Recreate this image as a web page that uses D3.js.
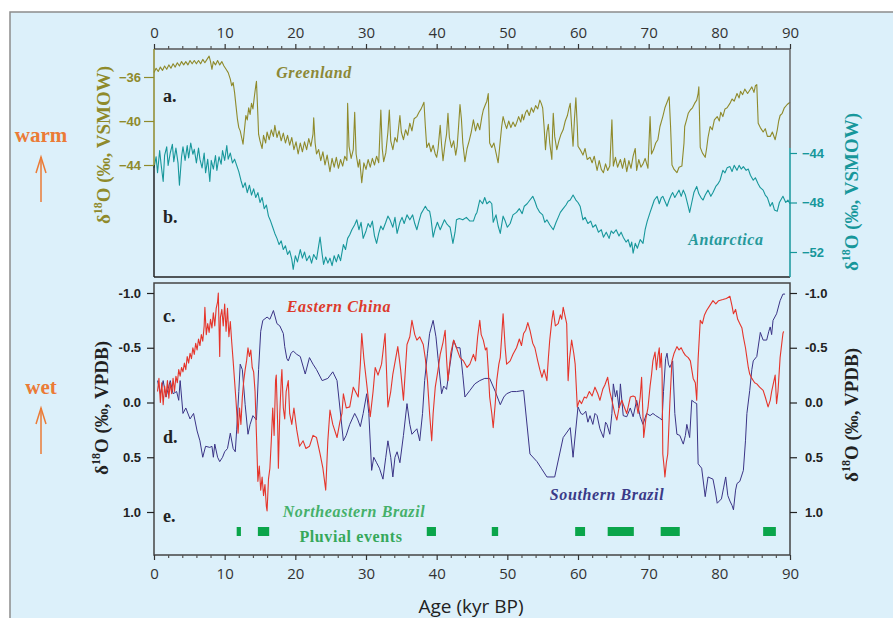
<!DOCTYPE html>
<html>

<head>
  <meta charset="utf-8">
  <title>isotope-records</title>
  <style>
    * {
      padding: 0;
      margin: 0;
    }

    body {
      background: #fff;
    }

    .serif {
      font-family: "Liberation Serif", "DejaVu Serif", serif;
      font-weight: bold;
    }

    .tick text {
      font-family: "Open Sans", "Liberation Sans", sans-serif;
    }
  </style>
</head>

<body>
  <svg id="svg"></svg>
  <script src="https://cdnjs.cloudflare.com/ajax/libs/d3/7.8.5/d3.min.js"></script>

  <script>
    // [age kyr BP, d18O]
    const greenland = [
      [0.0, -35.6], [0.3, -35.2], [0.6, -35.5], [0.9, -35.1], [1.2, -35.4], [1.5, -35.0], [1.8, -35.3], [2.1, -34.9],
      [2.4, -35.2], [2.7, -34.8], [3.0, -35.1], [3.3, -34.7], [3.6, -35.0], [3.9, -34.6], [4.2, -34.9], [4.5, -34.6],
      [4.8, -34.9], [5.1, -34.5], [5.4, -34.8], [5.7, -34.5], [6.0, -34.8], [6.3, -34.5], [6.6, -34.8], [6.9, -34.4],
      [7.2, -34.7], [7.5, -34.4], [7.8, -34.1], [8.0, -34.6], [8.2, -35.3], [8.4, -34.6], [8.7, -34.9], [9.0, -34.5],
      [9.3, -34.9], [9.6, -34.6], [9.9, -35.0], [10.2, -35.3], [10.5, -35.6], [10.8, -36.2], [11.0, -36.8], [11.2, -36.5],
      [11.4, -37.4], [11.6, -38.6], [11.8, -39.8], [12.0, -40.6], [12.2, -40.9], [12.4, -41.5], [12.6, -42.1], [12.8, -40.8],
      [13.0, -39.5], [13.2, -39.9], [13.4, -38.8], [13.6, -39.4], [13.8, -38.4], [14.0, -38.9], [14.2, -37.8], [14.4, -36.8],
      [14.5, -36.4], [14.7, -39.5], [14.8, -41.2], [15.0, -41.8], [15.3, -42.5], [15.5, -41.3], [15.8, -42.0], [16.0, -41.0],
      [16.3, -41.7], [16.6, -40.8], [16.9, -41.4], [17.1, -40.4], [17.4, -41.5], [17.7, -40.9], [18.0, -41.8], [18.3, -41.1],
      [18.6, -42.0], [18.9, -41.3], [19.2, -42.2], [19.5, -41.5], [19.8, -42.6], [20.1, -41.9], [20.4, -43.0], [20.7, -42.0],
      [21.0, -42.8], [21.3, -41.9], [21.6, -42.6], [21.9, -41.6], [22.2, -42.3], [22.5, -41.2], [22.6, -39.7], [22.8, -42.0],
      [23.0, -43.0], [23.3, -42.6], [23.6, -43.6], [23.9, -42.8], [24.2, -44.0], [24.5, -43.1], [24.9, -44.6], [25.2, -43.4],
      [25.5, -44.2], [25.8, -43.3], [26.1, -44.3], [26.4, -43.5], [26.7, -44.1], [27.0, -43.2], [27.3, -43.6], [27.4, -38.4],
      [27.6, -42.3], [27.9, -43.4], [28.2, -42.6], [28.4, -39.2], [28.6, -43.0], [28.9, -44.2], [29.1, -43.5], [29.4, -45.6],
      [29.7, -43.8], [30.0, -44.4], [30.3, -43.5], [30.6, -44.2], [30.9, -43.4], [31.2, -44.0], [31.5, -43.2], [31.8, -43.8],
      [32.1, -39.0], [32.3, -42.5], [32.5, -43.7], [32.8, -42.9], [33.1, -41.0], [33.3, -39.0], [33.5, -41.8], [33.8, -42.6],
      [34.1, -41.5], [34.4, -41.9], [34.8, -39.5], [35.0, -41.0], [35.3, -41.7], [35.6, -40.8], [35.9, -41.3], [36.2, -40.2],
      [36.5, -40.9], [36.8, -39.8], [37.2, -39.6], [37.5, -39.2], [37.8, -38.9], [38.0, -38.6], [38.2, -38.3], [38.4, -40.5],
      [38.6, -42.4], [38.9, -42.0], [39.2, -42.8], [39.5, -42.2], [39.8, -43.0], [40.0, -43.3], [40.2, -42.5], [40.5, -40.4],
      [40.7, -42.2], [40.9, -43.6], [41.2, -42.0], [41.4, -41.2], [41.6, -39.3], [41.8, -41.5], [42.1, -42.4], [42.4, -41.8],
      [42.7, -43.1], [42.9, -42.3], [43.1, -40.5], [43.3, -38.5], [43.5, -39.8], [43.7, -42.0], [44.0, -43.7], [44.3, -42.5],
      [44.6, -41.8], [44.9, -41.0], [45.2, -39.9], [45.5, -40.9], [45.8, -40.2], [46.1, -40.8], [46.4, -39.6], [46.6, -39.0],
      [46.9, -38.5], [47.1, -38.2], [47.3, -37.5], [47.5, -42.0], [47.8, -42.4], [48.1, -42.0], [48.4, -42.9], [48.7, -43.8],
      [49.0, -41.8], [49.2, -40.5], [49.4, -39.6], [49.7, -40.3], [49.9, -40.7], [50.2, -40.0], [50.5, -40.6], [50.8, -40.1],
      [51.1, -40.5], [51.3, -40.2], [51.6, -39.6], [51.9, -40.1], [52.1, -39.4], [52.3, -39.9], [52.6, -39.2], [52.8, -39.0],
      [53.1, -39.5], [53.4, -38.8], [53.7, -39.2], [54.0, -38.6], [54.3, -38.9], [54.6, -38.1], [54.8, -38.4], [55.0, -38.8],
      [55.2, -40.5], [55.4, -42.6], [55.6, -41.0], [55.8, -40.3], [56.0, -42.0], [56.3, -43.5], [56.4, -41.0], [56.5, -39.3],
      [56.7, -41.4], [57.0, -42.6], [57.3, -41.8], [57.6, -41.2], [57.9, -40.8], [58.2, -40.0], [58.5, -39.5], [58.7, -38.9],
      [58.9, -38.4], [59.1, -40.5], [59.3, -42.3], [59.5, -39.8], [59.7, -37.9], [59.9, -40.5], [60.0, -42.3], [60.3, -42.6],
      [60.7, -43.1], [61.0, -42.5], [61.3, -43.5], [61.7, -43.3], [62.0, -43.8], [62.3, -43.2], [62.7, -44.5], [63.0, -43.6],
      [63.3, -44.4], [63.6, -44.7], [63.9, -43.9], [64.2, -44.5], [64.5, -44.1], [64.8, -39.9], [65.0, -44.1], [65.3, -43.3],
      [65.6, -44.2], [66.0, -43.5], [66.3, -44.3], [66.6, -43.4], [66.9, -44.6], [67.2, -43.6], [67.5, -44.3], [67.8, -43.2],
      [68.1, -42.5], [68.3, -44.5], [68.6, -43.5], [68.9, -44.2], [69.2, -43.9], [69.5, -43.4], [69.9, -44.3], [70.2, -39.6],
      [70.4, -43.0], [70.7, -42.6], [71.0, -42.0], [71.3, -41.7], [71.6, -40.5], [72.0, -39.6], [72.3, -38.8], [72.6, -38.3],
      [72.9, -37.8], [73.1, -40.5], [73.3, -44.0], [73.6, -44.4], [74.0, -44.7], [74.3, -44.2], [74.7, -44.1], [75.0, -42.0],
      [75.1, -40.5], [75.4, -39.8], [75.6, -39.3], [75.9, -39.0], [76.2, -38.8], [76.5, -38.4], [76.8, -38.1], [77.0, -37.5],
      [77.1, -36.9], [77.3, -42.4], [77.6, -42.9], [78.0, -43.3], [78.2, -42.5], [78.4, -41.5], [78.7, -40.5], [79.0, -40.8],
      [79.3, -39.9], [79.7, -39.6], [80.0, -40.0], [80.2, -39.2], [80.5, -39.6], [80.8, -38.9], [81.1, -38.8], [81.5, -38.4],
      [81.8, -38.0], [82.1, -38.2], [82.5, -37.5], [82.8, -37.9], [83.0, -37.3], [83.3, -37.6], [83.6, -37.1], [84.0, -37.5],
      [84.3, -37.2], [84.6, -36.9], [84.9, -37.4], [85.1, -36.8], [85.3, -36.7], [85.5, -40.2], [85.8, -40.6], [86.2, -41.0],
      [86.5, -40.7], [86.8, -41.4], [87.2, -41.4], [87.5, -41.0], [87.9, -41.7], [88.2, -40.8], [88.4, -40.0], [88.6, -39.5],
      [88.9, -39.3], [89.2, -38.8], [89.6, -38.5], [90.0, -38.3]
    ];

    const antarctica = [
      [0.0, -45.2], [0.3, -44.3], [0.5, -45.6], [0.8, -43.8], [1.0, -44.9], [1.3, -46.3], [1.5, -44.2], [1.8, -43.5],
      [2.0, -45.0], [2.3, -44.0], [2.6, -43.3], [2.8, -44.7], [3.1, -43.6], [3.4, -44.8], [3.6, -46.6], [3.9, -44.3],
      [4.1, -43.5], [4.4, -44.6], [4.7, -43.4], [4.9, -44.4], [5.2, -43.2], [5.5, -44.1], [5.7, -43.7], [6.0, -44.8],
      [6.3, -43.6], [6.5, -44.5], [6.8, -45.2], [7.1, -44.0], [7.3, -45.6], [7.6, -44.5], [7.9, -46.3], [8.1, -44.6],
      [8.4, -45.3], [8.7, -44.2], [8.9, -45.4], [9.2, -44.3], [9.5, -44.9], [9.7, -43.8], [10.0, -44.6], [10.3, -43.4],
      [10.5, -44.5], [10.8, -44.0], [11.1, -44.8], [11.4, -44.5], [11.7, -45.0], [12.0, -45.5], [12.3, -46.2], [12.6, -46.8],
      [12.9, -46.4], [13.2, -47.2], [13.5, -46.6], [13.8, -47.4], [14.1, -46.9], [14.4, -47.6], [14.7, -47.2], [15.0, -48.0],
      [15.3, -47.6], [15.6, -48.5], [15.9, -48.2], [16.2, -49.1], [16.5, -49.5], [16.8, -50.0], [17.1, -50.5], [17.4, -50.9],
      [17.7, -51.4], [18.0, -51.1], [18.3, -51.8], [18.6, -51.5], [18.9, -52.2], [19.2, -51.9], [19.5, -52.6], [19.7, -53.4],
      [20.0, -52.3], [20.3, -52.8], [20.7, -51.8], [21.0, -52.5], [21.3, -52.0], [21.6, -52.7], [22.0, -52.3], [22.3, -52.9],
      [22.6, -52.2], [23.0, -52.6], [23.3, -51.5], [23.5, -50.8], [23.8, -52.2], [24.0, -53.0], [24.3, -52.4], [24.6, -52.9],
      [24.9, -52.5], [25.2, -53.1], [25.5, -52.3], [25.8, -52.8], [26.1, -52.2], [26.4, -52.7], [26.8, -51.4], [27.1, -51.8],
      [27.4, -50.9], [27.7, -50.6], [28.0, -50.2], [28.4, -49.8], [28.7, -49.4], [29.0, -50.2], [29.3, -49.6], [29.6, -50.9],
      [30.0, -50.3], [30.3, -49.7], [30.6, -50.0], [30.9, -49.5], [31.2, -50.7], [31.5, -51.3], [31.8, -50.5], [32.1, -49.9],
      [32.4, -50.2], [32.8, -49.6], [33.1, -49.1], [33.4, -49.4], [33.8, -50.0], [34.1, -49.2], [34.4, -50.5], [34.8, -49.6],
      [35.1, -49.2], [35.4, -49.7], [35.8, -49.0], [36.2, -49.4], [36.6, -49.0], [36.9, -49.7], [37.2, -50.2], [37.5, -49.5],
      [37.8, -48.9], [38.1, -48.6], [38.4, -48.3], [38.7, -48.6], [39.0, -48.7], [39.2, -49.3], [39.5, -50.8], [39.8, -50.1],
      [40.1, -49.6], [40.5, -50.2], [40.8, -49.8], [41.1, -49.4], [41.4, -49.7], [41.7, -49.9], [41.9, -50.0], [42.3, -51.3],
      [42.6, -50.4], [42.8, -49.4], [43.2, -49.3], [43.7, -49.4], [44.2, -49.2], [44.7, -49.5], [45.2, -49.5], [45.5, -49.0],
      [45.7, -48.8], [46.1, -47.8], [46.5, -48.1], [46.8, -47.6], [47.1, -48.1], [47.5, -47.9], [47.8, -48.1], [48.0, -49.6],
      [48.4, -49.0], [48.7, -49.9], [49.0, -50.5], [49.4, -49.1], [49.7, -49.5], [50.0, -50.0], [50.4, -49.7], [50.8, -49.0],
      [51.3, -48.8], [51.7, -48.5], [52.1, -48.9], [52.4, -48.3], [52.8, -48.1], [53.2, -47.8], [53.6, -47.5], [53.9, -47.9],
      [54.2, -48.4], [54.6, -48.8], [55.0, -49.0], [55.3, -49.6], [55.6, -49.4], [56.0, -49.8], [56.5, -50.2], [56.9, -49.6],
      [57.2, -49.2], [57.5, -48.8], [57.9, -48.5], [58.3, -48.2], [58.6, -47.9], [58.9, -47.8], [59.3, -47.4], [59.7, -47.8],
      [60.0, -48.0], [60.3, -48.3], [60.7, -49.4], [61.0, -49.2], [61.4, -49.7], [61.8, -49.5], [62.1, -50.0], [62.5, -49.8],
      [62.9, -50.4], [63.3, -50.2], [63.6, -50.8], [64.0, -50.4], [64.4, -50.9], [64.7, -50.3], [65.0, -50.5], [65.4, -50.2],
      [65.8, -50.7], [66.1, -50.4], [66.4, -50.8], [66.8, -51.2], [67.1, -51.0], [67.4, -51.6], [67.6, -51.2], [67.8, -52.1],
      [68.1, -51.3], [68.4, -51.7], [68.8, -51.0], [69.2, -51.3], [69.5, -50.2], [69.8, -49.5], [70.2, -48.8], [70.5, -48.3],
      [70.8, -47.8], [71.2, -47.5], [71.5, -48.1], [71.8, -47.6], [72.0, -47.5], [72.3, -47.9], [72.6, -48.3], [72.9, -47.8],
      [73.2, -47.4], [73.4, -47.2], [73.7, -47.6], [74.0, -47.3], [74.3, -47.0], [74.6, -47.5], [74.9, -47.0], [75.2, -47.4],
      [75.5, -48.1], [75.8, -48.8], [76.1, -48.0], [76.4, -47.2], [76.8, -46.7], [77.1, -47.3], [77.4, -47.6], [77.7, -47.8],
      [78.0, -47.4], [78.4, -47.0], [78.8, -47.5], [79.1, -47.2], [79.5, -46.7], [79.8, -46.5], [80.1, -46.2], [80.5, -45.4],
      [80.8, -45.6], [81.1, -45.2], [81.5, -45.1], [81.8, -45.5], [82.1, -45.0], [82.5, -45.4], [82.8, -45.0], [83.1, -45.3],
      [83.4, -45.1], [83.8, -45.4], [84.1, -45.3], [84.4, -45.8], [84.8, -46.2], [85.1, -46.0], [85.5, -46.5], [85.8, -46.8],
      [86.2, -47.0], [86.5, -47.4], [86.8, -47.6], [87.2, -48.3], [87.5, -48.0], [87.8, -48.6], [88.2, -48.7], [88.5, -48.0],
      [88.8, -47.7], [89.0, -47.5], [89.4, -48.0], [89.7, -47.8], [90.0, -48.1]
    ];

    const easternChina = [
      [0.5, -0.10], [0.7, -0.22], [0.9, 0.00], [1.1, -0.18], [1.3, 0.02], [1.5, -0.15], [1.7, -0.05], [1.9, -0.20],
      [2.1, -0.04], [2.3, -0.18], [2.5, -0.08], [2.7, -0.22], [2.9, -0.10], [3.1, -0.24], [3.3, -0.18], [3.5, -0.30],
      [3.7, -0.24], [3.9, -0.32], [4.1, -0.28], [4.3, -0.36], [4.5, -0.30], [4.7, -0.42], [4.9, -0.36], [5.1, -0.45],
      [5.3, -0.40], [5.5, -0.50], [5.7, -0.44], [5.9, -0.54], [6.1, -0.48], [6.3, -0.58], [6.5, -0.52], [6.7, -0.62],
      [6.9, -0.56], [7.1, -0.70], [7.2, -0.87], [7.4, -0.62], [7.6, -0.72], [7.8, -0.64], [8.0, -0.76], [8.2, -0.68],
      [8.4, -0.82], [8.6, -0.70], [8.8, -0.86], [9.0, -0.92], [9.1, -1.00], [9.2, -0.70], [9.3, -0.42], [9.4, -0.78],
      [9.6, -0.85], [9.8, -0.70], [10.0, -0.90], [10.2, -0.65], [10.4, -0.86], [10.6, -0.60], [10.8, -0.74], [11.0, -0.55],
      [11.2, -0.38], [11.4, -0.20], [11.6, -0.02], [11.8, 0.18], [11.9, 0.28], [12.1, 0.05], [12.3, 0.20], [12.5, -0.05],
      [12.7, -0.20], [12.9, -0.30], [13.1, -0.38], [13.3, -0.50], [13.5, -0.42], [13.7, -0.48], [13.9, -0.32], [14.1, -0.28],
      [14.3, -0.10], [14.5, 0.30], [14.7, 0.72], [14.9, 0.58], [15.1, 0.80], [15.3, 0.68], [15.5, 0.85], [15.7, 0.75],
      [15.9, 0.95], [16.0, 0.99], [16.2, 0.70], [16.4, 0.60], [16.6, 0.35], [16.8, 0.05], [17.0, 0.30], [17.2, -0.20],
      [17.3, -0.25], [17.5, 0.20], [17.6, 0.60], [17.8, 0.10], [18.0, -0.20], [18.1, -0.30], [18.3, 0.05], [18.5, 0.15],
      [18.7, -0.10], [19.0, -0.20], [19.2, 0.10], [19.5, 0.20], [19.8, 0.05], [20.2, 0.25], [20.6, 0.40], [21.1, 0.35],
      [21.5, 0.42], [22.0, 0.40], [22.5, 0.30], [23.0, 0.32], [23.5, 0.47], [23.9, 0.60], [24.3, 0.80], [24.6, 0.35],
      [24.9, 0.07], [25.3, 0.20], [25.9, 0.32], [26.3, 0.18], [26.6, 0.10], [26.8, -0.08], [27.2, 0.05], [27.7, 0.04],
      [28.2, -0.14], [28.9, -0.05], [29.2, -0.35], [29.4, -0.63], [29.7, -0.40], [30.1, -0.17], [30.6, 0.13], [31.0, -0.10],
      [31.3, -0.32], [31.7, -0.25], [32.2, -0.35], [32.7, -0.63], [33.1, 0.04], [33.5, -0.10], [33.8, -0.26], [34.5, -0.51],
      [34.9, -0.30], [35.3, -0.02], [35.8, -0.53], [36.2, -0.60], [36.5, -0.75], [36.9, -0.62], [37.2, -0.57], [37.6, -0.60],
      [38.1, -0.53], [38.4, -0.40], [38.7, -0.20], [39.0, 0.10], [39.3, 0.35], [39.5, 0.10], [39.8, -0.14], [40.2, -0.30],
      [40.5, -0.44], [40.9, -0.55], [41.2, -0.66], [41.4, -0.40], [41.6, -0.20], [42.0, -0.45], [42.4, -0.57], [42.8, -0.50],
      [43.3, -0.41], [43.8, -0.38], [44.3, -0.32], [44.7, -0.35], [45.2, -0.44], [45.5, -0.38], [45.8, -0.60], [46.1, -0.75],
      [46.3, -0.62], [46.6, -0.57], [46.9, -0.48], [47.1, -0.50], [47.3, -0.30], [47.5, -0.05], [47.8, 0.10], [48.0, 0.23],
      [48.3, 0.00], [48.5, -0.20], [48.8, -0.35], [49.0, -0.41], [49.2, -0.60], [49.4, -0.81], [49.7, -0.50], [49.9, -0.35],
      [50.4, -0.38], [50.8, -0.44], [51.3, -0.50], [51.7, -0.58], [52.0, -0.52], [52.3, -0.63], [52.6, -0.66], [52.9, -0.73],
      [53.2, -0.66], [53.6, -0.54], [53.9, -0.50], [54.3, -0.38], [54.6, -0.30], [54.9, -0.23], [55.2, -0.30], [55.6, -0.20],
      [55.8, -0.40], [56.0, -0.57], [56.3, -0.75], [56.5, -0.84], [56.8, -0.70], [57.2, -0.72], [57.5, -0.80], [57.7, -0.76],
      [57.9, -0.87], [58.2, -0.78], [58.4, -0.72], [58.6, -0.20], [58.8, -0.40], [59.1, -0.57], [59.4, -0.45], [59.6, -0.35],
      [59.9, 0.04], [60.2, -0.02], [60.5, 0.01], [60.9, -0.05], [61.2, -0.04], [61.6, -0.10], [62.0, -0.06], [62.4, -0.14],
      [62.8, -0.08], [63.1, -0.02], [63.5, -0.12], [63.8, -0.16], [64.2, -0.23], [64.5, -0.10], [64.8, -0.02], [65.2, 0.10],
      [65.5, 0.16], [65.8, 0.05], [66.2, -0.02], [66.6, 0.05], [66.9, 0.10], [67.4, -0.05], [67.8, -0.06], [68.1, -0.05],
      [68.5, 0.10], [68.8, -0.05], [69.0, -0.23], [69.3, 0.32], [69.6, 0.15], [69.9, 0.05], [70.2, -0.15], [70.4, -0.25],
      [70.6, -0.38], [70.9, -0.46], [71.1, -0.30], [71.3, -0.42], [71.5, -0.50], [71.6, -0.32], [71.8, -0.45], [71.9, -0.25],
      [72.0, 0.47], [72.2, 0.60], [72.3, 0.68], [72.5, 0.55], [72.7, 0.47], [73.0, 0.00], [73.3, -0.38], [73.6, -0.45],
      [74.0, -0.51], [74.3, -0.48], [74.6, -0.50], [74.9, -0.46], [75.2, -0.43], [75.6, -0.41], [75.9, -0.38], [76.1, -0.30],
      [76.3, -0.22], [76.6, -0.18], [76.8, -0.02], [77.0, -0.40], [77.3, -0.75], [77.6, -0.72], [77.9, -0.80], [78.2, -0.84],
      [78.6, -0.88], [79.1, -0.93], [79.5, -0.90], [79.9, -0.93], [80.5, -0.94], [81.0, -0.95], [81.5, -0.97], [81.8, -0.88],
      [82.0, -0.81], [82.3, -0.85], [82.6, -0.76], [82.9, -0.72], [83.2, -0.68], [83.4, -0.60], [83.7, -0.50], [83.9, -0.41],
      [84.1, -0.32], [84.3, -0.26], [84.6, -0.22], [85.0, -0.18], [85.3, -0.17], [85.7, -0.14], [86.2, -0.11], [86.5, -0.05],
      [86.9, 0.04], [87.2, -0.02], [87.4, -0.10], [87.9, -0.25], [88.1, 0.01], [88.3, -0.10], [88.6, -0.41], [89.0, -0.63],
      [89.1, -0.65]
    ];

    const southernBrazil = [
      [0.5, -0.20], [0.9, -0.08], [1.3, -0.20], [1.7, -0.05], [2.1, -0.15], [2.3, -0.20], [2.7, -0.08], [3.2, -0.10],
      [3.5, -0.02], [3.7, -0.20], [4.1, 0.10], [4.5, 0.05], [5.1, 0.15], [5.6, 0.10], [6.1, 0.26], [6.5, 0.35],
      [6.9, 0.50], [7.3, 0.40], [7.9, 0.41], [8.2, 0.40], [8.4, 0.50], [8.6, 0.38], [9.0, 0.50], [9.3, 0.54],
      [9.7, 0.50], [10.0, 0.45], [10.4, 0.42], [10.8, 0.28], [11.2, 0.42], [11.5, 0.45], [11.7, 0.25], [12.0, -0.10],
      [12.2, -0.35], [12.5, -0.30], [12.9, 0.02], [13.3, 0.29], [13.6, 0.20], [14.0, 0.12], [14.5, 0.16], [14.8, -0.30],
      [15.1, -0.65], [15.4, -0.75], [16.0, -0.78], [16.4, -0.76], [16.9, -0.84], [17.4, -0.72], [17.8, -0.70], [18.3, -0.63],
      [18.5, -0.51], [18.8, -0.40], [19.0, -0.38], [19.4, -0.45], [19.7, -0.47], [20.2, -0.44], [20.7, -0.42], [21.4, -0.26],
      [22.0, -0.41], [22.5, -0.35], [23.0, -0.30], [23.8, -0.20], [24.6, -0.22], [25.3, -0.28], [25.9, -0.20], [26.8, 0.35],
      [27.2, 0.30], [27.7, 0.20], [28.4, 0.10], [28.8, 0.15], [29.2, 0.22], [29.6, 0.10], [30.1, -0.08], [30.4, 0.10],
      [30.8, 0.62], [31.1, 0.50], [31.5, 0.55], [31.9, 0.60], [32.4, 0.70], [32.8, 0.50], [33.1, 0.35], [33.5, 0.50],
      [33.8, 0.68], [34.1, 0.50], [34.4, 0.45], [34.8, 0.55], [35.3, 0.30], [35.8, 0.01], [36.2, 0.20], [36.5, 0.29],
      [37.2, 0.24], [37.6, 0.35], [38.0, 0.10], [38.3, -0.20], [38.7, -0.45], [39.0, -0.63], [39.5, -0.75], [39.9, -0.60],
      [40.2, -0.40], [40.7, -0.08], [41.0, -0.15], [41.4, -0.12], [41.9, -0.35], [42.4, -0.57], [42.8, -0.50], [43.3, -0.50],
      [43.7, -0.25], [44.0, -0.05], [44.7, -0.11], [45.4, -0.17], [46.1, -0.20], [46.8, -0.22], [47.5, -0.22], [48.3, -0.10],
      [49.0, 0.02], [49.5, -0.05], [49.9, -0.08], [50.6, -0.10], [51.3, -0.10], [52.3, -0.11], [53.2, 0.47], [54.2, 0.54],
      [54.8, 0.60], [55.6, 0.68], [56.7, 0.68], [57.9, 0.32], [58.9, 0.23], [59.3, 0.50], [60.0, 0.04], [60.4, 0.10],
      [60.7, 0.11], [61.1, 0.08], [61.4, 0.18], [61.7, 0.12], [62.1, 0.20], [62.4, 0.10], [62.7, 0.12], [63.1, 0.24],
      [63.6, 0.32], [63.9, 0.18], [64.1, 0.20], [64.5, 0.29], [64.8, 0.10], [65.0, -0.17], [65.3, -0.05], [65.5, -0.11],
      [65.8, 0.05], [66.0, -0.17], [66.4, 0.12], [66.9, 0.13], [67.4, 0.05], [67.8, 0.13], [68.3, -0.02], [68.8, 0.13],
      [69.2, 0.20], [69.7, 0.10], [70.2, 0.12], [70.6, 0.10], [71.0, 0.12], [71.5, 0.14], [71.9, 0.16], [72.1, -0.10],
      [72.4, -0.40], [72.6, -0.45], [72.8, -0.35], [73.0, -0.32], [73.4, -0.38], [73.7, 0.10], [74.0, 0.29], [74.4, 0.30],
      [74.9, 0.38], [75.2, 0.30], [75.4, 0.20], [75.8, 0.32], [76.1, -0.02], [76.5, 0.00], [76.8, 0.01], [77.0, 0.56],
      [77.5, 0.60], [78.0, 0.86], [78.4, 0.68], [79.1, 0.70], [79.4, 0.80], [79.7, 0.92], [80.3, 0.88], [80.6, 0.78],
      [80.9, 0.68], [81.2, 0.85], [81.5, 0.90], [81.8, 0.94], [82.0, 0.98], [82.3, 0.80], [82.5, 0.74], [82.9, 0.72],
      [83.4, 0.62], [83.7, 0.35], [83.9, 0.10], [84.3, -0.11], [84.6, -0.30], [84.8, -0.38], [85.3, -0.42], [85.8, -0.64],
      [86.2, -0.57], [86.7, -0.57], [87.0, -0.65], [87.2, -0.69], [87.4, -0.62], [87.6, -0.75], [88.1, -0.81], [88.6, -0.93],
      [89.0, -0.99], [89.3, -0.99]
    ];

    // pluvial events, NE Brazil [start, end] kyr BP
    const pluvialEvents = [[11.7, 12.3], [14.7, 16.3], [38.6, 39.9], [47.8, 48.7], [59.6, 61.0], [64.2, 67.9], [71.7, 74.4], [86.2, 88.0]];

    const ageTicks = [0, 10, 20, 30, 40, 50, 60, 70, 80, 90];
    const greenlandTicks = [-36, -40, -44];
    const antarcticaTicks = [-44, -48, -52];
    const speleoTicks = [-1.0, -0.5, 0.0, 0.5, 1.0];

    const dim = { width: 893, height: 618 };
    const panelA = { left: 154, right: 790, top: 49, bottom: 277 };
    const panelB = { left: 154, right: 790, top: 283, bottom: 555 };

    const colors = {
      bg: '#dcf0fa',
      greenland: '#8f8a2b',
      antarctica: '#17979b',
      china: '#e5352b',
      brazil: '#3b3486',
      pluvial: '#0aa54a',
      orange: '#eb7b36',
      frame: '#444'
    };

    const svg = d3.select('#svg').attr('width', dim.width).attr('height', dim.height);

    svg.append('rect')
      .attr('x', 10).attr('y', 12)
      .attr('width', dim.width).attr('height', dim.height)
      .attr('fill', colors.bg)
      .attr('stroke', '#8c8c8c')
      .attr('stroke-width', 1.5);

    const x = d3.scaleLinear().domain([0, 90]).range([panelA.left, panelA.right]);
    const yGreen = d3.scaleLinear().domain([-36, -44]).range([77, 165]);
    const yAnt = d3.scaleLinear().domain([-44, -52]).range([153, 252]);
    const ySpeleo = d3.scaleLinear().domain([-1, 1]).range([293, 512]);

    const minorTicks = d3.range(0, 91, 2).filter(d => d % 10 !== 0);

    // series
    const drawLine = (data, y, color, width) => {
      svg.append('path')
        .datum(data)
        .attr('fill', 'none')
        .attr('stroke', color)
        .attr('stroke-width', width)
        .attr('stroke-linejoin', 'round')
        .attr('d', d3.line().x(d => x(d[0])).y(d => y(d[1])));
    };

    drawLine(greenland, yGreen, colors.greenland, 1.1);
    drawLine(antarctica, yAnt, colors.antarctica, 1.1);
    drawLine(southernBrazil, ySpeleo, colors.brazil, 1);
    drawLine(easternChina, ySpeleo, colors.china, 1.1);

    svg.selectAll('.pluvial')
      .data(pluvialEvents)
      .enter()
      .append('rect')
      .attr('class', 'pluvial')
      .attr('x', d => x(d[0]))
      .attr('width', d => x(d[1]) - x(d[0]))
      .attr('y', 527)
      .attr('height', 9)
      .attr('fill', colors.pluvial);

    // frames
    const seg = (x1, y1, x2, y2, color) => svg.append('line')
      .attr('x1', x1).attr('y1', y1).attr('x2', x2).attr('y2', y2)
      .attr('stroke', color).attr('stroke-width', 1.5);

    seg(panelA.left, panelA.top, panelA.right, panelA.top, '#555');
    seg(panelA.left, panelA.bottom, panelA.right, panelA.bottom, '#222');
    seg(panelA.left, panelA.top, panelA.left, yGreen(-44), colors.greenland);
    seg(panelA.left, yGreen(-44), panelA.left, panelA.bottom, '#222');
    seg(panelA.right, panelA.top, panelA.right, 148, '#666');
    seg(panelA.right, 148, panelA.right, panelA.bottom, colors.antarctica);

    svg.append('rect')
      .attr('x', panelB.left).attr('y', panelB.top)
      .attr('width', panelB.right - panelB.left).attr('height', panelB.bottom - panelB.top)
      .attr('fill', 'none').attr('stroke', colors.frame).attr('stroke-width', 1.5);

    // axes
    const styleAxis = (g, color, size, weight) => {
      g.select('.domain').remove();
      g.selectAll('.tick line').attr('stroke', color).attr('stroke-width', 1.2);
      g.selectAll('.tick text').attr('fill', color).style('font-size', size + 'px').style('font-weight', weight);
    };

    const addMinor = (axisFn, yPos) => {
      svg.append('g')
        .attr('transform', `translate(0, ${yPos})`)
        .call(axisFn(x).tickValues(minorTicks).tickSize(3).tickFormat(''))
        .call(g => styleAxis(g, '#555', 1, 'normal'));
    };

    svg.append('g')
      .attr('transform', `translate(0, ${panelA.top})`)
      .call(d3.axisTop(x).tickValues(ageTicks).tickSize(5).tickPadding(6).tickFormat(d3.format('d')))
      .call(g => styleAxis(g, '#333', 15, 'normal'));
    addMinor(d3.axisTop, panelA.top);

    svg.append('g')
      .attr('transform', `translate(0, ${panelB.bottom})`)
      .call(d3.axisBottom(x).tickValues(ageTicks).tickSize(5).tickPadding(8).tickFormat(d3.format('d')))
      .call(g => styleAxis(g, '#333', 15, 'normal'));
    addMinor(d3.axisBottom, panelB.bottom);

    const yTickFont = { fontFamily: '"Liberation Sans", Arial, sans-serif' };

    svg.append('g')
      .attr('transform', `translate(${panelA.left}, 0)`)
      .call(d3.axisLeft(yGreen).tickValues(greenlandTicks).tickSize(10).tickPadding(3))
      .call(g => styleAxis(g, colors.greenland, 13, 'bold'))
      .selectAll('text').style('font-family', yTickFont.fontFamily);

    svg.append('g')
      .attr('transform', `translate(${panelA.right}, 0)`)
      .call(d3.axisRight(yAnt).tickValues(antarcticaTicks).tickSize(7).tickPadding(5))
      .call(g => styleAxis(g, colors.antarctica, 13, 'bold'))
      .selectAll('text').style('font-family', yTickFont.fontFamily);

    svg.append('g')
      .attr('transform', `translate(${panelB.left}, 0)`)
      .call(d3.axisLeft(ySpeleo).tickValues(speleoTicks).tickSize(7).tickPadding(6).tickFormat(d => d.toFixed(1)))
      .call(g => styleAxis(g, '#222', 13, 'bold'))
      .selectAll('text').style('font-family', yTickFont.fontFamily);

    svg.append('g')
      .attr('transform', `translate(${panelB.right}, 0)`)
      .call(d3.axisRight(ySpeleo).tickValues(speleoTicks).tickSize(7).tickPadding(8).tickFormat(d => d.toFixed(1)))
      .call(g => styleAxis(g, '#222', 13, 'bold'))
      .selectAll('text').style('font-family', yTickFont.fontFamily);

    // axis titles
    const isoTitle = (tx, ty, unit, color) => {
      const t = svg.append('text')
        .attr('class', 'serif')
        .attr('transform', `translate(${tx}, ${ty}) rotate(-90)`)
        .attr('text-anchor', 'middle')
        .attr('fill', color)
        .style('font-size', '19px');
      t.append('tspan').text('δ');
      t.append('tspan').attr('dy', -8).style('font-size', '12px').text('18');
      t.append('tspan').attr('dy', 8).text(`O (‰, ${unit})`);
    };

    isoTitle(110, 145, 'VSMOW', colors.greenland);
    isoTitle(858, 192, 'VSMOW', colors.antarctica);
    isoTitle(108, 408, 'VPDB', '#222');
    isoTitle(858, 415, 'VPDB', '#222');

    svg.append('text')
      .attr('x', 471).attr('y', 613)
      .attr('text-anchor', 'middle')
      .attr('fill', '#222')
      .style('font-family', '"Open Sans", sans-serif')
      .style('font-size', '19px')
      .text('Age (kyr BP)');

    // panel letters
    [['a.', 102], ['b.', 223], ['c.', 322], ['d.', 443], ['e.', 522]].forEach(([label, yPos]) => {
      svg.append('text')
        .attr('class', 'serif')
        .attr('x', 163).attr('y', yPos)
        .attr('fill', '#222')
        .style('font-size', '18px')
        .text(label);
    });

    // record names
    const recordLabel = (text, cx, yPos, color, italic) => svg.append('text')
      .attr('class', 'serif')
      .attr('x', cx).attr('y', yPos)
      .attr('text-anchor', 'middle')
      .attr('fill', color)
      .style('font-size', '16px')
      .style('font-style', italic ? 'italic' : 'normal')
      .style('letter-spacing', '0.6px')
      .text(text);

    recordLabel('Greenland', 314, 78, '#8c8836', true);
    recordLabel('Antarctica', 726, 245, '#26999a', true);
    recordLabel('Eastern China', 339, 312, '#dd3a2c', true);
    recordLabel('Northeastern Brazil', 354, 517, '#45b06a', true);
    recordLabel('Pluvial events', 351, 542, '#36a85a', false);
    recordLabel('Southern Brazil', 607, 500, '#3a3a88', true);

    // warm / wet arrows
    const sideNote = (text, yText, yTop, yBottom) => {
      svg.append('text')
        .attr('class', 'serif')
        .attr('x', 41).attr('y', yText)
        .attr('text-anchor', 'middle')
        .attr('fill', colors.orange)
        .style('font-size', '21px')
        .text(text);
      svg.append('line')
        .attr('x1', 41).attr('x2', 41).attr('y1', yTop).attr('y2', yBottom)
        .attr('stroke', colors.orange).attr('stroke-width', 1.5);
      svg.append('path')
        .attr('d', `M36,${yTop + 16} L41,${yTop} L46,${yTop + 16}`)
        .attr('fill', 'none')
        .attr('stroke', colors.orange).attr('stroke-width', 1.5);
    };

    sideNote('warm', 142, 157, 202);
    sideNote('wet', 394, 408, 454);
  </script>

</body>

</html>
